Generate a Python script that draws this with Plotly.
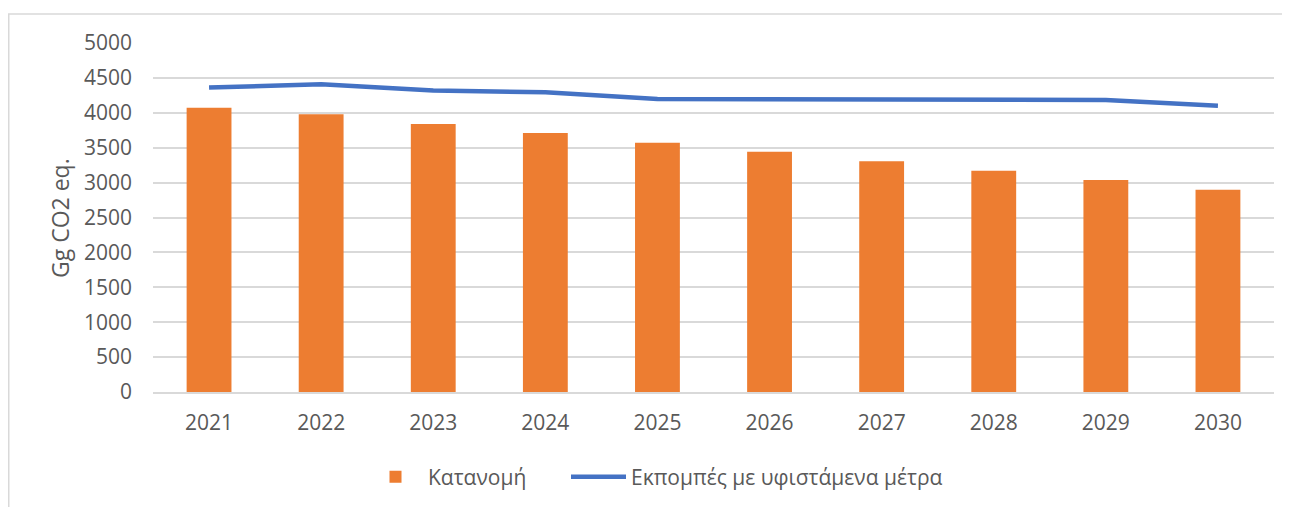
import plotly.graph_objects as go

years = ["2021", "2022", "2023", "2024", "2025", "2026", "2027", "2028", "2029", "2030"]
allocation = [4072, 3981, 3840, 3711, 3572, 3443, 3305, 3170, 3036, 2899]
emissions_wem = [4361, 4409, 4318, 4294, 4198, 4196, 4182, 4196, 4184, 4102]
y_ticks = [0, 500, 1000, 1500, 2000, 2500, 3000, 3500, 4000, 4500, 5000]

OFF = 8  # default body margin of the page
W, H = 1290 - OFF, 507 - OFF
L, R, T, B = 153 - OFF, 1274 - OFF, 43 - OFF, 392 - OFF
pw, ph = R - L, B - T

def px(x):
    return (x - OFF - L) / pw

def py(y):
    return (B - (y - OFF)) / ph

FONT = "Open Sans"
GRAY = "#595959"

fig = go.Figure()
fig.add_trace(go.Bar(
    x=years, y=allocation, name="Κατανομή", legend="legend",
    marker=dict(color="#ED7D31", line=dict(width=0)),
))
fig.add_trace(go.Scatter(
    x=years, y=emissions_wem, name="Εκπομπές με υφιστάμενα μέτρα", legend="legend2",
    mode="lines", line=dict(color="#4472C4", width=4.5),
))

legend_common = dict(
    orientation="h", y=py(477), xanchor="left", yanchor="middle",
    font=dict(family=FONT, size=21, color=GRAY), itemwidth=55,
    bgcolor="rgba(0,0,0,0)",
)

fig.update_layout(
    width=W, height=H,
    margin=dict(l=L, r=W - R, t=T, b=H - B, autoexpand=False),
    paper_bgcolor="white", plot_bgcolor="white",
    bargap=0.6,
    font=dict(family=FONT, size=21, color=GRAY),
    showlegend=True,
    legend=dict(x=px(363), **legend_common),
    legend2=dict(x=px(566), **legend_common),
    xaxis=dict(
        type="category", showgrid=False, showline=True, linecolor="#D9D9D9", linewidth=1.5,
        ticks="", tickfont=dict(family=FONT, size=21, color=GRAY), ticklabelstandoff=11,
        fixedrange=True,
    ),
    yaxis=dict(
        range=[0, 5000], tickvals=y_ticks, showgrid=True, gridcolor="#D9D9D9", gridwidth=1.5,
        zeroline=False, showline=False, ticks="",
        tickfont=dict(family=FONT, size=21, color=GRAY), ticklabelstandoff=20,
        fixedrange=True,
    ),
    annotations=[dict(
        text="Gg CO2 eq.", xref="paper", yref="paper", x=px(60), y=py(218),
        xanchor="center", yanchor="middle", textangle=-90, showarrow=False,
        font=dict(family=FONT, size=23, color=GRAY),
    )],
    shapes=[dict(
        type="rect", xref="paper", yref="paper", x0=px(8.75), x1=px(1310), y0=py(14), y1=py(530),
        line=dict(color="#D9D9D9", width=1.5), fillcolor="rgba(0,0,0,0)", layer="below",
    )],
)

fig.write_html("out.html")
